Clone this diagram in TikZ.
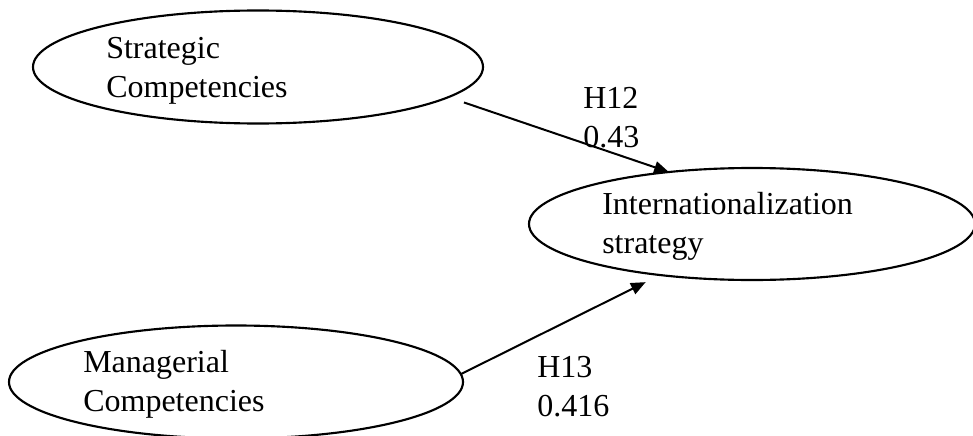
\documentclass[tikz,border=0pt]{standalone}
\usepackage{fontspec}
\setmainfont{Liberation Serif}
\usetikzlibrary{shapes.geometric,arrows.meta}

\begin{document}
\begin{tikzpicture}[x=0.75pt,y=-0.75pt,
  construct/.style={ellipse,draw,line width=1.6pt,inner sep=0pt,outer sep=0pt},
  caption/.style={inner sep=0pt,anchor=base west,align=left,
    font=\fontsize{24pt}{28.8pt}\selectfont},
  path/.style={line width=1.5pt,-{Triangle[length=11pt,width=9pt]}}]
  \useasboundingbox (0,0) rectangle (973,435);

  % latent constructs
  \node[construct,minimum width=450*0.75pt,minimum height=113*0.75pt] (sc) at (258,67) {};
  \node[construct,minimum width=446*0.75pt,minimum height=112*0.75pt] (is) at (752,224) {};
  \node[construct,minimum width=454*0.75pt,minimum height=113*0.75pt] (mc) at (236,382) {};

  % construct names (anchored on the baseline of the last line)
  \node[caption] (sct) at (106,97) {Strategic\\Competencies};
  \node[caption] (ist) at (602,253) {Internationalization\\strategy};
  \node[caption] (mct) at (83,411) {Managerial\\Competencies};

  % hypothesised paths
  \draw[path,shorten <=12.4pt] (sc.-9.4) -- (is.148.2);
  \draw[path,shorten >=12pt] (mc.2.8) -- (is.-151.5);

  % path labels
  \node[caption] (h12) at (583,147) {H12\\0.43};
  \node[caption] (h13) at (537,416) {H13\\0.416};
\end{tikzpicture}
\end{document}
